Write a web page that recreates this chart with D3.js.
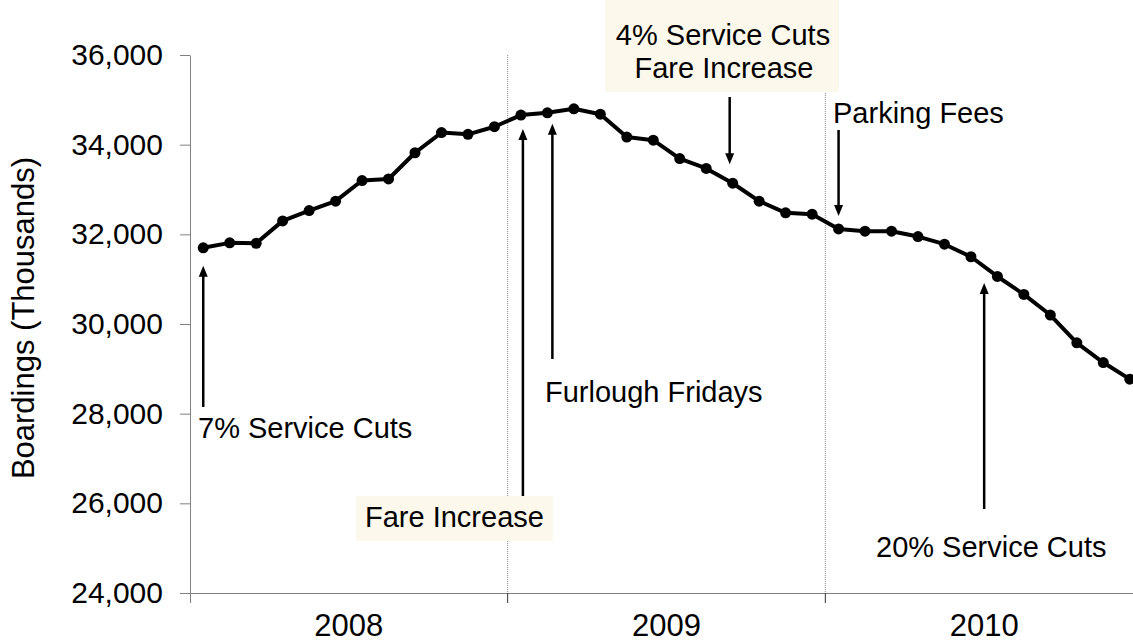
<!DOCTYPE html>
<html lang="en">
<head>
<meta charset="utf-8">
<style>
    body { margin: 0; background: #fff; }
    #mainSVG { display: block; }
    text { font-family: "Liberation Sans", Arial, sans-serif; fill: #000; }
    .axis .domain { stroke: #808080; }
    .axis line { stroke: #808080; }
</style>
</head>
<body>
<svg id="mainSVG" width="1133" height="643"></svg>
<script src="https://cdn.jsdelivr.net/npm/d3@7"></script>
<script>

    // monthly boardings (thousands), Jan 2008 .. Dec 2010
    var years = ["2008", "2009", "2010"];
    var boardings = [
        31700, 31810, 31800, 32300, 32530, 32740, 33200, 33235, 33820, 34270, 34230, 34400,
        34660, 34710, 34800, 34680, 34170, 34100, 33690, 33470, 33140, 32740, 32480, 32450,
        32120, 32070, 32070, 31950, 31780, 31500, 31060, 30660, 30200, 29580, 29140, 28770
    ];
    var yTicks = [24000, 26000, 28000, 30000, 32000, 34000, 36000];
    var yTitle = "Boardings (Thousands)";

    var svg = d3.select("svg");
    // note: "top" is taken by window.top, so use plot* names
    var plotLeft = 190, plotRight = 1143, plotTop = 55, plotBottom = 593;

    var months = d3.range(boardings.length);

    var x = d3.scalePoint()
        .domain(months)
        .range([plotLeft, plotRight])
        .padding(0.5);

    var xYear = d3.scaleBand()
        .domain(years)
        .range([plotLeft, plotRight]);

    var y = d3.scaleLinear()
        .domain([24000, 36000])
        .range([plotBottom, plotTop]);

    // dotted year dividers
    svg.append("g")
        .selectAll("line")
        .data(years.slice(1))
        .enter().append("line")
        .attr("x1", function (d) { return xYear(d); })
        .attr("x2", function (d) { return xYear(d); })
        .attr("y1", plotTop)
        .attr("y2", plotBottom)
        .attr("stroke", "#8a8a8a")
        .attr("stroke-width", 1)
        .attr("stroke-dasharray", "1,1");

    // y axis
    svg.append("g")
        .attr("class", "axis")
        .attr("transform", "translate(" + plotLeft + ",0)")
        .call(d3.axisLeft(y)
            .tickValues(yTicks)
            .tickSize(10)
            .tickSizeOuter(0)
            .tickPadding(17)
            .tickFormat(d3.format(",")))
        .call(function (g) {
            g.selectAll("text").attr("font-size", 30).attr("font-family", "Liberation Sans, Arial, sans-serif").attr("fill", "#000");
        });

    svg.append("line")
        .attr("x1", plotLeft + 0.5).attr("x2", plotLeft + 0.5)
        .attr("y1", plotBottom).attr("y2", plotBottom + 10)
        .attr("stroke", "#808080");

    // x axis line and year boundary ticks
    svg.append("line")
        .attr("x1", plotLeft).attr("x2", plotRight)
        .attr("y1", plotBottom + 0.5).attr("y2", plotBottom + 0.5)
        .attr("stroke", "#808080");

    svg.append("g")
        .selectAll("line")
        .data(years.slice(1))
        .enter().append("line")
        .attr("x1", function (d) { return xYear(d); })
        .attr("x2", function (d) { return xYear(d); })
        .attr("y1", plotBottom)
        .attr("y2", plotBottom + 10)
        .attr("stroke", "#333");

    svg.append("g")
        .selectAll("text")
        .data(years)
        .enter().append("text")
        .attr("x", function (d) { return xYear(d) + xYear.bandwidth() / 2; })
        .attr("y", 636)
        .attr("text-anchor", "middle")
        .attr("font-size", 31)
        .text(function (d) { return d; });

    svg.append("text")
        .attr("transform", "translate(34," + 318 + ") rotate(-90)")
        .attr("text-anchor", "middle")
        .attr("font-size", 31)
        .text(yTitle);

    // the series
    var line = d3.line()
        .x(function (d, i) { return x(i); })
        .y(function (d) { return y(d); });

    svg.append("path")
        .datum(boardings)
        .attr("fill", "none")
        .attr("stroke", "#000")
        .attr("stroke-width", 4)
        .attr("stroke-linejoin", "round")
        .attr("d", line);

    svg.append("g")
        .selectAll("circle")
        .data(boardings)
        .enter().append("circle")
        .attr("cx", function (d, i) { return x(i); })
        .attr("cy", function (d) { return y(d); })
        .attr("r", 5.5)
        .attr("fill", "#000");

    // annotations
    function arrow(ax, yFrom, yTip) {
        var dir = yTip < yFrom ? 1 : -1;
        svg.append("line")
            .attr("x1", ax).attr("x2", ax)
            .attr("y1", yFrom).attr("y2", yTip + dir * 8)
            .attr("stroke", "#000")
            .attr("stroke-width", 2.5);
        svg.append("path")
            .attr("d", "M" + ax + "," + yTip + "L" + (ax - 4.5) + "," + (yTip + dir * 11) + "L" + (ax + 4.5) + "," + (yTip + dir * 11) + "Z")
            .attr("fill", "#000");
    }

    function label(tx, ty, str, anchor) {
        svg.append("text")
            .attr("x", tx).attr("y", ty)
            .attr("font-size", 29)
            .attr("text-anchor", anchor || "start")
            .text(str);
    }

    var boxFill = "#fdf8ec";

    // 7% Service Cuts
    arrow(x(0), 407, y(boardings[0]) + 18);
    label(198, 438, "7% Service Cuts");

    // Fare Increase (Jan 2009)
    svg.append("rect")
        .attr("x", 356).attr("y", 496).attr("width", 197).attr("height", 45)
        .attr("fill", boxFill);
    label(365, 527, "Fare Increase");
    arrow(x(12) + 2, 496, y(boardings[12]) + 14);

    // Furlough Fridays
    arrow(x(13) + 5, 359, y(boardings[13]) + 11);
    label(545, 402, "Furlough Fridays");

    // 4% Service Cuts / Fare Increase
    svg.append("rect")
        .attr("x", 605).attr("y", 0).attr("width", 234).attr("height", 92)
        .attr("fill", boxFill);
    label(723, 45, "4% Service Cuts", "middle");
    label(724, 78, "Fare Increase", "middle");
    arrow(x(20) - 3, 97, y(boardings[20]) - 19);

    // Parking Fees
    label(833, 123, "Parking Fees");
    arrow(x(24), 130, y(boardings[24]) - 13);

    // 20% Service Cuts
    arrow((x(29) + x(30)) / 2, 509, 283);
    label(876, 557, "20% Service Cuts");

</script>
</body>
</html>
